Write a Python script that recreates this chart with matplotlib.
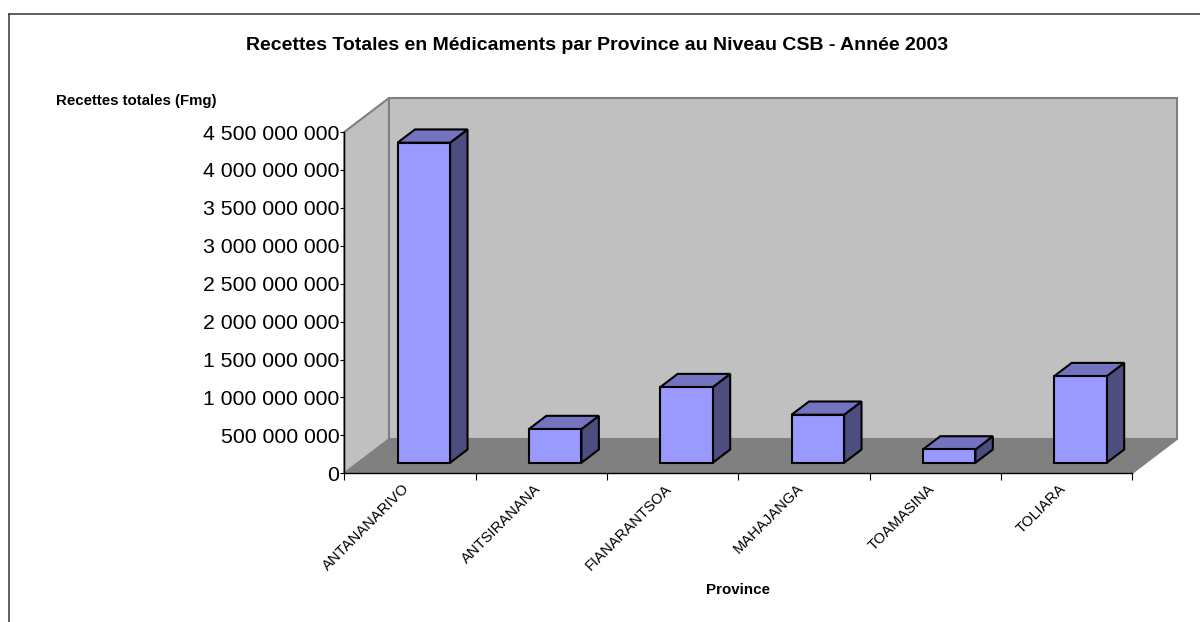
import numpy as np
import matplotlib
matplotlib.use('Agg')
import matplotlib.pyplot as plt
from matplotlib.patches import Polygon

plt.rcParams['font.family'] = ['Liberation Sans', 'DejaVu Sans']

# data
provinces = ['ANTANANARIVO', 'ANTSIRANANA', 'FIANARANTSOA', 'MAHAJANGA', 'TOAMASINA', 'TOLIARA']
recettes = [4220000000, 444000000, 997000000, 633000000, 175000000, 1142000000]
y_ticks = [0, 500000000, 1000000000, 1500000000, 2000000000, 2500000000, 3000000000, 3500000000, 4000000000, 4500000000]

W, H = 1200, 622
fig = plt.figure(figsize=(W / 100, H / 100), dpi=100)

# front plane of the 3d box, in pixels from the top left
left, right, top, bottom = 344.3, 1132.3, 132.0, 473.3
ax = fig.add_axes([left / W, 1 - bottom / H, (right - left) / W, (bottom - top) / H])
ax.set_xlim(0, 6)
ax.set_ylim(0, 4500000000)
ax.patch.set_visible(False)
for s in ['top', 'right']:
    ax.spines[s].set_visible(False)
for s in ['left', 'bottom']:
    ax.spines[s].set_color('black')
    ax.spines[s].set_linewidth(1.0)


def quad(pts, color, edge, lw, z):
    # pts are (x, y, depth) with depth 0..1 along the box diagonal
    disp = [ax.transData.transform((x, y)) + np.array([d * 44.7, d * 34.0]) for x, y, d in pts]
    p = Polygon(disp, closed=True, transform=None, facecolor=color, edgecolor=edge,
                linewidth=lw, zorder=z, joinstyle='miter', clip_on=False)
    fig.add_artist(p)


ymax = y_ticks[-1]

# walls and floor
quad([(0, 0, 0), (0, ymax, 0), (0, ymax, 1), (0, 0, 1)], '#c0c0c0', '#808080', 1.5, 1)
quad([(0, 0, 1), (0, ymax, 1), (6, ymax, 1), (6, 0, 1)], '#c0c0c0', '#808080', 1.5, 1)
quad([(0, 0, 0), (6, 0, 0), (6, 0, 1), (0, 0, 1)], '#808080', '#808080', 1.0, 2)

# bars
d0 = 0.31
d1 = 0.70
for i, v in enumerate(recettes):
    x0 = i + 0.3
    x1 = i + 0.7
    quad([(x1, 0, d0), (x1, 0, d1), (x1, v, d1), (x1, v, d0)], '#4d4d80', 'black', 1.5, 3)
    quad([(x0, v, d0), (x1, v, d0), (x1, v, d1), (x0, v, d1)], '#7373bf', 'black', 1.5, 3)
    quad([(x0, 0, d0), (x1, 0, d0), (x1, v, d0), (x0, v, d0)], '#9999ff', 'black', 1.5, 4)

ax.set_zorder(5)
ax.set_yticks(y_ticks)
ax.set_yticklabels([f'{t:,}'.replace(',', ' ') for t in y_ticks], fontsize=15.3, color='black')
ax.set_xticks(range(7))
ax.set_xticklabels([])
ax.tick_params(axis='y', length=3.2, width=0.8, color='black', pad=0.5)
ax.tick_params(axis='x', length=5, width=0.8, color='black')

for i, name in enumerate(provinces):
    ax.annotate(name, xy=(i + 0.5, 0), xycoords='data', xytext=(-8, -8), textcoords='offset pixels',
                rotation=45, rotation_mode='anchor', ha='right', va='top', fontsize=10.6)

# texts
fig.text(597 / W, 1 - 46 / H, 'Recettes Totales en Médicaments par Province au Niveau CSB - Année 2003',
         fontsize=14, fontweight='bold', ha='center', va='center')
fig.text(136 / W, 1 - 101 / H, 'Recettes totales (Fmg)', fontsize=10.85, fontweight='bold', ha='center', va='center')
fig.text(738 / W, 1 - 590 / H, 'Province', fontsize=10.9, fontweight='bold', ha='center', va='center')

# chart frame, open on the right
fig.add_artist(plt.Line2D([9 / W, 9 / W], [0, 1 - 13.5 / H], color='#333333', linewidth=1.1))
fig.add_artist(plt.Line2D([9 / W, 1], [1 - 13.5 / H, 1 - 13.5 / H], color='#333333', linewidth=1.1))

fig.savefig('out.png', dpi=100, facecolor='white')
